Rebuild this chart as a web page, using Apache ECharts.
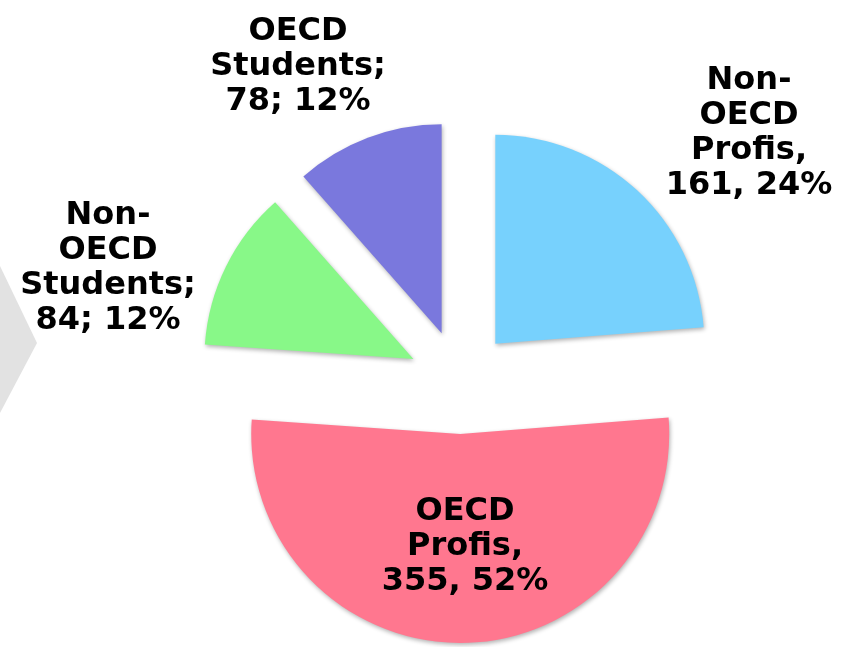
<!DOCTYPE html>
<html>
<head>
<meta charset="utf-8">
<script src="https://cdn.jsdelivr.net/npm/echarts@6/dist/echarts.min.js"></script>
<style>
  html, body { margin: 0; padding: 0; background: #fff; }
  #main { width: 846px; height: 647px; }
</style>
</head>
<body>
<div id="main"></div>
<script>
// slices, clockwise from 12 o'clock
const names = ["Non-\nOECD\nProfis", "OECD\nProfis", "Non-\nOECD\nStudents", "OECD\nStudents"];
const values = [161, 355, 84, 78];
const seps = [",", ",", ";", ";"];
const colors = ["#77D1FD", "#FF778F", "#88F888", "#7A78DD"];

// centre of each label block
const labelSpots = [[749, 133], [465, 547], [108, 268], [298, 67]];

const chartDom = document.getElementById("main");
const myChart = echarts.init(chartDom, null, { renderer: "canvas" });

const total = values.reduce((a, b) => a + b, 0);

function labelText(i) {
  const s = seps[i];
  return names[i] + s + "\n" + values[i] + s + " " + Math.round(values[i] / total * 100) + "%";
}

const labels = values.map((v, i) => ({
  type: "text",
  x: labelSpots[i][0],
  y: labelSpots[i][1],
  z: 10,
  style: {
    text: labelText(i),
    fill: "#000",
    font: "bold 32px 'DejaVu Sans'",
    lineHeight: 35,
    align: "center",
    verticalAlign: "middle"
  }
}));

let option = {
  animation: false,
  backgroundColor: "#fff",
  graphic: [{
    // grey slide arrow peeking in at the left edge
    type: "polygon",
    shape: { points: [[0, 266], [37, 343], [0, 413]] },
    style: { fill: "#e2e2e2" },
    z: 0
  }].concat(labels),
  series: [{
    type: "pie",
    center: [460, 382],
    radius: [0, 209],
    startAngle: 90,
    clockwise: true,
    selectedMode: "multiple",
    selectedOffset: 52,
    emphasis: { disabled: true },
    itemStyle: {
      shadowBlur: 4,
      shadowOffsetY: 2,
      shadowOffsetX: 1,
      shadowColor: "rgba(0,0,0,0.3)"
    },
    label: { show: false },
    labelLine: { show: false },
    data: names.map((n, i) => ({
      name: n,
      value: values[i],
      selected: true,
      itemStyle: { color: colors[i] }
    }))
  }]
};

option && myChart.setOption(option);
</script>
</body>
</html>
